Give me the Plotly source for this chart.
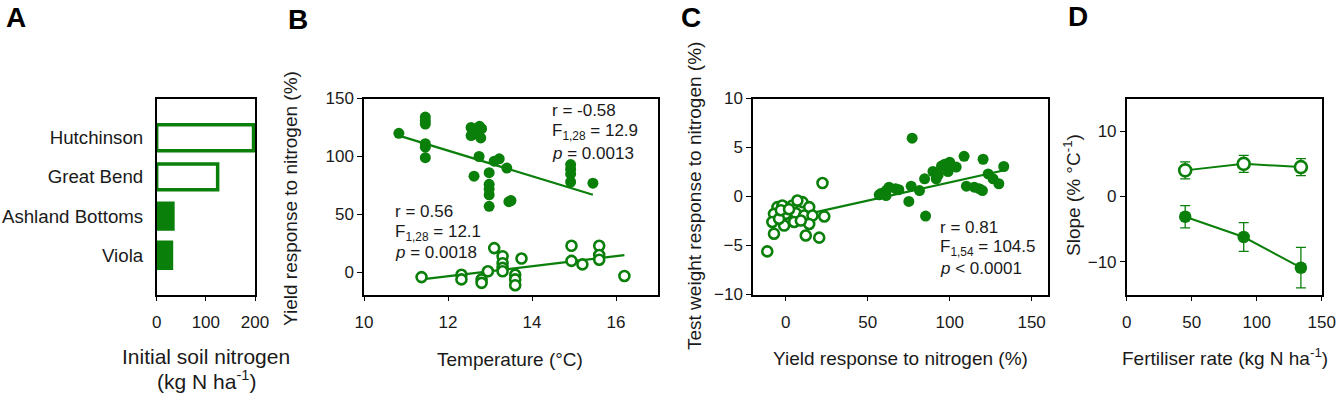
import plotly.graph_objects as go

GREEN = "#0a7f0a"
FONT = "Liberation Sans, Arial, sans-serif"
TXT = "#1a1a1a"

# ---- Panel A data ----
sites = ["Hutchinson", "Great Bend", "Ashland Bottoms", "Viola"]
soil_n = [197, 124, 33, 30]
site_open = [True, True, False, False]

# ---- Panel B data ----
tempB_filled = [10.83, 11.46, 11.46, 11.46, 11.46, 11.46, 11.46, 12.55, 12.55, 12.62,
                12.65, 12.7, 12.75, 12.78, 12.8, 12.74, 12.98, 12.98, 12.98, 12.98,
                12.98, 13.1, 13.22, 13.4, 13.45, 13.5, 14.92, 14.92, 14.92, 14.92, 15.45]
yieldB_filled = [120, 134, 131, 128, 111, 108, 99, 125, 118, 83,
                 122, 120, 126, 116, 124, 100, 86, 76, 72, 67,
                 57, 96, 98, 90, 61, 62, 93, 89, 85, 78, 77]
tempB_open = [11.37, 12.32, 12.32, 12.8, 12.8, 12.95, 13.1, 13.3, 13.3, 13.3, 13.3,
              13.6, 13.6, 13.6, 13.75, 14.94, 14.94, 15.2, 15.6, 15.6, 15.6, 16.2]
yieldB_open = [-4, -2, -6, -6, -9, 1, 21, 14, 8, 4, 1,
               -2, -6, -11, 12, 23, 10, 7, 23, 15, 11, -3]
fitB_filled_x = [10.83, 15.45]
fitB_filled_y = [118, 67]
fitB_open_x = [11.37, 16.2]
fitB_open_y = [-6, 15]

# ---- Panel C data ----
yieldC_filled = [77.1, 108.8, 120.4, 133, 100, 95, 97, 99, 89.8, 91.8, 84.7, 76.5, 81.6,
                 69, 67, 61.2, 61.2, 57, 75.1, 85.3, 110.2, 115, 118, 120, 123.5,
                 126.5, 130, 63, 58, 93, 104]
twC_filled = [5.95, 4.1, 3.8, 3.06, 3.5, 3.1, 3.3, 2.55, 2.55, 1.8, 1.8, 1.05, 0.6,
              0.7, 0.8, 0.6, 0.1, 0.17, -0.5, -2.0, 1.05, 0.95, 0.8, 0.6, 2.3,
              1.8, 1.3, 0.95, 0.3, 2.2, 3.0]
yieldC_open = [22.4, 23.5, 20.4, 12.2, -7.2, -11.3, -5.1, -2.1, 4.0, 10.2, 14.3, -7.2,
               0.0, 6.1, 11.2, 16.3, -8.2, -1.0, 5.1, 14.3, 9.2, -4.1, 7.1, -3.0, 2.0]
twC_open = [1.37, -2.04, -4.2, -3.98, -3.8, -5.6, -1.08, -0.92, -0.92, -0.57, -1.08, -1.77,
            -1.77, -1.7, -1.94, -1.94, -2.6, -2.96, -2.6, -2.8, -2.45, -2.27, -0.41, -1.4, -1.3]
fitC_x = [18.4, 132.7]
fitC_y = [-1.6, 2.65]

# ---- Panel D data ----
rate = [45, 90, 134]
slope_open = [4.0, 5.0, 4.5]
err_open = [1.3, 1.3, 1.3]
slope_filled = [-3.1, -6.2, -10.9]
err_filled = [1.7, 2.2, 3.1]

W, H = 1339, 396


def px(x):
    return x / W


def py(y):
    return 1 - y / H


fig = go.Figure()

# Panel A bars
for s, v, o in zip(sites, soil_n, site_open):
    fig.add_trace(go.Bar(
        x=[v], y=[s], orientation="h", width=0.66,
        marker=dict(color="white" if o else GREEN, line=dict(color=GREEN, width=3.5)),
        xaxis="x", yaxis="y", showlegend=False))

# Panel B
fig.add_trace(go.Scatter(x=fitB_filled_x, y=fitB_filled_y, mode="lines",
                         line=dict(color=GREEN, width=2.2), xaxis="x2", yaxis="y2", showlegend=False))
fig.add_trace(go.Scatter(x=fitB_open_x, y=fitB_open_y, mode="lines",
                         line=dict(color=GREEN, width=2.2), xaxis="x2", yaxis="y2", showlegend=False))
fig.add_trace(go.Scatter(x=tempB_filled, y=yieldB_filled, mode="markers",
                         marker=dict(color=GREEN, size=11, line=dict(width=0)),
                         xaxis="x2", yaxis="y2", showlegend=False))
fig.add_trace(go.Scatter(x=tempB_open, y=yieldB_open, mode="markers",
                         marker=dict(color="white", size=10, line=dict(color=GREEN, width=2.6)),
                         xaxis="x2", yaxis="y2", showlegend=False))

# Panel C
fig.add_trace(go.Scatter(x=fitC_x, y=fitC_y, mode="lines",
                         line=dict(color=GREEN, width=2.2), xaxis="x3", yaxis="y3", showlegend=False))
fig.add_trace(go.Scatter(x=yieldC_filled, y=twC_filled, mode="markers",
                         marker=dict(color=GREEN, size=11, line=dict(width=0)),
                         xaxis="x3", yaxis="y3", showlegend=False))
fig.add_trace(go.Scatter(x=yieldC_open, y=twC_open, mode="markers",
                         marker=dict(color="white", size=10, line=dict(color=GREEN, width=2.6)),
                         xaxis="x3", yaxis="y3", showlegend=False))

# Panel D
fig.add_trace(go.Scatter(x=rate, y=slope_open, mode="lines+markers",
                         error_y=dict(type="data", array=err_open, color=GREEN, thickness=1.3, width=5),
                         line=dict(color=GREEN, width=2),
                         marker=dict(color="white", size=12, line=dict(color=GREEN, width=2.6)),
                         xaxis="x4", yaxis="y4", showlegend=False))
fig.add_trace(go.Scatter(x=rate, y=slope_filled, mode="lines+markers",
                         error_y=dict(type="data", array=err_filled, color=GREEN, thickness=1.3, width=5),
                         line=dict(color=GREEN, width=2),
                         marker=dict(color=GREEN, size=12.5, line=dict(width=0)),
                         xaxis="x4", yaxis="y4", showlegend=False))

ydom = [py(294.5), py(98.5)]
axcommon = dict(showline=True, linecolor="black", linewidth=1.5, mirror=True,
                ticks="outside", ticklen=5, tickwidth=1.3, tickcolor="black",
                showgrid=False, zeroline=False, automargin=False,
                tickfont=dict(family=FONT, size=17, color=TXT))
xcommon = dict(axcommon, ticklabelstandoff=6)

fig.update_layout(
    template="none",
    width=W, height=H,
    margin=dict(l=0, r=0, t=0, b=0, pad=0, autoexpand=False),
    paper_bgcolor="white", plot_bgcolor="white",
    bargap=0.3,
    xaxis=dict(domain=[px(156.7), px(255)], range=[0, 200], tickvals=[0, 100, 200],
               anchor="y", **xcommon),
    yaxis=dict(domain=ydom, type="category", categoryorder="array",
               categoryarray=sites[::-1], range=[-1, 4], anchor="x",
               **{**axcommon, "ticks": "", "ticklabelstandoff": 8,
                  "tickfont": dict(family=FONT, size=18.7, color=TXT)}),
    xaxis2=dict(domain=[px(364), px(658)], range=[10, 17], tickvals=[10, 12, 14, 16],
                anchor="y2", **xcommon),
    yaxis2=dict(domain=ydom, range=[-19, 150], tickvals=[0, 50, 100, 150], anchor="x2", **axcommon),
    xaxis3=dict(domain=[px(753), px(1048)], range=[-20, 160], tickvals=[0, 50, 100, 150],
                anchor="y3", **xcommon),
    yaxis3=dict(domain=ydom, range=[-10, 10], tickvals=[-10, -5, 0, 5, 10], anchor="x3", **axcommon),
    xaxis4=dict(domain=[px(1126.7), px(1321.7)], range=[0, 150], tickvals=[0, 50, 100, 150],
                anchor="y4", **xcommon),
    yaxis4=dict(domain=ydom, range=[-15, 15], tickvals=[-10, 0, 10], anchor="x4", **axcommon),
)

ann = []


def txt(x, y, t, size=17, xanchor="center", angle=0, bold=False):
    ann.append(dict(x=px(x), y=py(y), xref="paper", yref="paper", text=("<b>%s</b>" % t) if bold else t,
                    showarrow=False, xanchor=xanchor, yanchor="middle", textangle=angle,
                    font=dict(family=FONT, size=size, color=TXT if not bold else "black")))


# panel letters
txt(16, 17, "A", size=28, bold=True)
txt(298, 19, "B", size=28, bold=True)
txt(691, 17, "C", size=28, bold=True)
txt(1078, 16, "D", size=28, bold=True)

# axis titles
txt(206, 356, "Initial soil nitrogen", size=21)
txt(206, 380, "(kg N ha<sup>-1</sup>)", size=21)
txt(510, 359, "Temperature (°C)", size=19)
txt(291, 199, "Yield response to nitrogen (%)", size=19, angle=-90)
txt(900, 358, "Yield response to nitrogen (%)", size=19)
txt(694, 196, "Test weight response to nitrogen (%)", size=19, angle=-90)
txt(1225, 357, "Fertiliser rate (kg N ha<sup>-1</sup>)", size=19)
txt(1072, 195, "Slope (% °C<sup>-1</sup>)", size=19, angle=-90)

# statistics text
txt(550, 110, "r = -0.58", xanchor="left")
txt(550, 132, "F<sub>1,28</sub> = 12.9", xanchor="left")
txt(550, 153, "<i>p</i> = 0.0013", xanchor="left")
txt(393, 211, "r = 0.56", xanchor="left")
txt(393, 233, "F<sub>1,28</sub> = 12.1", xanchor="left")
txt(393, 253, "<i>p</i> = 0.0018", xanchor="left")
txt(938, 227, "r = 0.81", xanchor="left")
txt(938, 248, "F<sub>1,54</sub> = 104.5", xanchor="left")
txt(938, 268, "<i>p</i> &lt; 0.0001", xanchor="left")

fig.update_layout(annotations=ann)
fig.write_html(
    "out.html",
    config={"displayModeBar": False},
    post_script="document.body.style.margin='0';document.body.style.overflow='hidden';",
)
